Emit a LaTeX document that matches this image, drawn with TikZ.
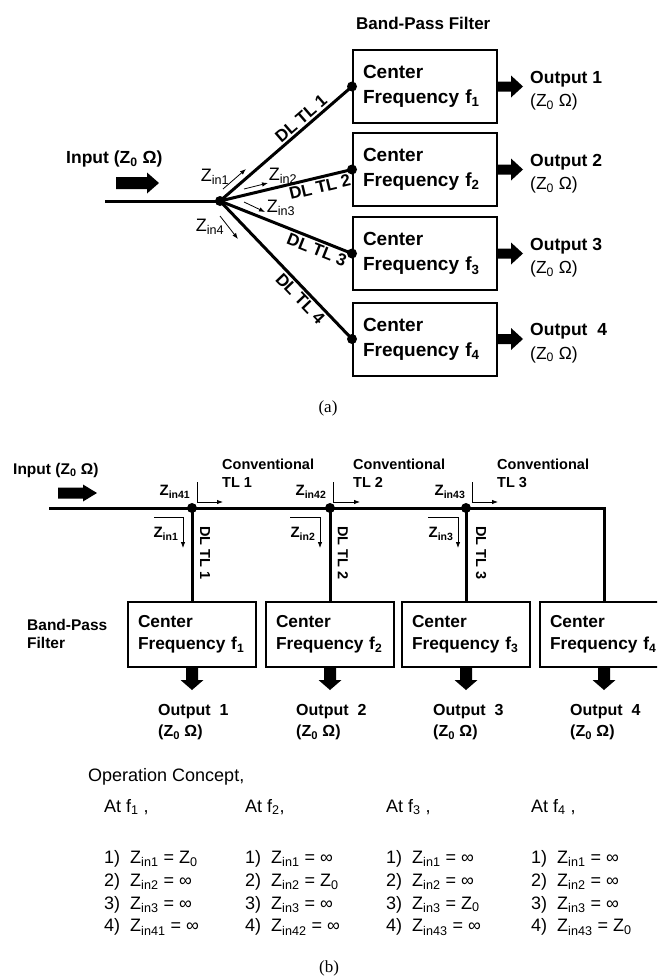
\documentclass[tikz,border=0pt]{standalone}
\usepackage{fontspec}
\setmainfont{Liberation Sans}
\newfontfamily\capfont{Liberation Serif}
\usetikzlibrary{arrows.meta}
\newcommand\fs[2]{\fontsize{#1}{#2}\selectfont}
\newcommand\sub[1]{\textsubscript{#1}}
\begin{document}
\begin{tikzpicture}[x=1pt,y=-1pt,
  boxa/.style={draw, line width=2pt, minimum width=144pt, minimum height=73pt, inner xsep=10pt, inner ysep=0pt, text width=124pt, align=left, font=\fs{19}{25}\bfseries},
  boxb/.style={draw, line width=2pt, minimum width=128pt, minimum height=65pt, inner xsep=10pt, inner ysep=0pt, text width=108pt, align=left, font=\fs{17.3}{22}\bfseries},
  tl/.style={line width=3pt},
  jdot/.style={circle, fill, inner sep=0pt, minimum size=10pt},
  thinarr/.style={line width=0.8pt, -{Latex[length=6pt,width=4.5pt]}},
  dla/.style={font=\fs{17}{20}\bfseries, inner sep=2pt},
  zina/.style={font=\fs{18}{20}, inner sep=0pt},
  zinb/.style={font=\fs{15}{18}\bfseries, inner sep=0pt},
  lblb/.style={font=\fs{14.5}{18}\bfseries, inner sep=0pt, align=left},
  outa/.style={font=\fs{17.5}{23.5}, inner sep=0pt, align=left, anchor=west},
  outb/.style={font=\fs{16}{21}\bfseries, inner sep=0pt, align=left, anchor=west},
  oper/.style={font=\fs{18}{22.8}, inner sep=0pt, align=left, anchor=west},
  capstyle/.style={font=\capfont\fs{17}{20}, inner sep=0pt},
  pics/barrow/.style n args={4}{code={\fill (0,-#3) -- ({#1-#2},-#3) -- ({#1-#2},-#4) -- (#1,0) -- ({#1-#2},#4) -- ({#1-#2},#3) -- (0,#3) -- cycle;}},
]
\useasboundingbox (0,0) rectangle (657,980);
\clip (0,0) rectangle (657,980);
\fill[white] (0,0) rectangle (657,980);

% ---------------- (a) ----------------
\node[font=\fs{17}{20}\bfseries, anchor=west, inner sep=0pt] (bpfA) at (356,23) {Band-Pass Filter};

\node[boxa] (a1) at (425,86.5) {Center\\Frequency f\sub{1}};
\node[boxa] (a2) at (425,169.5) {Center\\Frequency f\sub{2}};
\node[boxa] (a3) at (425,253.5) {Center\\Frequency f\sub{3}};
\node[boxa] (a4) at (425,339) {Center\\Frequency f\sub{4}};

\node[jdot] (J) at (220,201) {};
\coordinate (inA) at (105,201);
\draw[tl] (inA) -- (J.center);
\draw[tl] (J.center) -- node[sloped, above, pos=0.66, dla] (dl1) {DL TL 1} (a1.west);
\draw[tl] (J.center) -- node[sloped, below, pos=0.74, dla] (dl2) {DL TL 2} (a2.west);
\draw[tl] (J.center) -- node[sloped, below, pos=0.76, dla] (dl3) {DL TL 3} (a3.west);
\draw[tl] (J.center) -- node[sloped, below, pos=0.66, dla] (dl4) {DL TL 4} (a4.west);
\node[jdot] (d1) at (a1.west) {};
\node[jdot] (d2) at (a2.west) {};
\node[jdot] (d3) at (a3.west) {};
\node[jdot] (d4) at (a4.west) {};

\node[font=\fs{17.5}{20}\bfseries, anchor=west, inner sep=0pt] (inputA) at (66,159) {Input (Z\sub{0} Ω)};
\pic at (116,183) {barrow={43}{12}{6}{10.5}};

\coordinate (z1s) at (223,189); \coordinate (z1e) at (246,169);
\coordinate (z2s) at (244,189); \coordinate (z2e) at (268,183);
\coordinate (z3s) at (244,202); \coordinate (z3e) at (265,212);
\coordinate (z4s) at (220,216); \coordinate (z4e) at (238,239);
\draw[thinarr] (z1s) -- (z1e);
\draw[thinarr] (z2s) -- (z2e);
\draw[thinarr] (z3s) -- (z3e);
\draw[thinarr] (z4s) -- (z4e);
\node[zina] (za1) at (215,177) {Z\sub{in1}};
\node[zina] (za2) at (283,176) {Z\sub{in2}};
\node[zina] (za3) at (281,208) {Z\sub{in3}};
\node[zina] (za4) at (210,227) {Z\sub{in4}};

\pic at (a1.east) {barrow={25}{12}{5}{11}};
\pic at (a2.east) {barrow={25}{12}{5}{11}};
\pic at (a3.east) {barrow={25}{12}{5}{11}};
\pic at (a4.east) {barrow={25}{12}{5}{11}};
\node[outa] (oa1) at (530,90.5) {\textbf{Output 1}\\(Z\sub{0} Ω)};
\node[outa] (oa2) at (530,173.5) {\textbf{Output 2}\\(Z\sub{0} Ω)};
\node[outa] (oa3) at (530,257.5) {\textbf{Output 3}\\(Z\sub{0} Ω)};
\node[outa] (oa4) at (530,343) {\textbf{Output\ \ 4}\\(Z\sub{0} Ω)};

\node[capstyle] (capA) at (328,408) {(a)};

% ---------------- (b) ----------------
\node[font=\fs{15.5}{18}\bfseries, anchor=west, inner sep=0pt] (inputB) at (13,470) {Input (Z\sub{0} Ω)};
\pic at (58,493) {barrow={39}{14}{5.5}{8.5}};

\node[boxb] (b1) at (192,634.5) {Center\\Frequency f\sub{1}};
\node[boxb] (b2) at (330,634.5) {Center\\Frequency f\sub{2}};
\node[boxb] (b3) at (466,634.5) {Center\\Frequency f\sub{3}};
\node[boxb] (b4) at (604,634.5) {Center\\Frequency f\sub{4}};

\node[jdot] (j1) at (192,508) {};
\node[jdot] (j2) at (330,508) {};
\node[jdot] (j3) at (466,508) {};
\coordinate (inB) at (49,508);
\coordinate (corner) at (604,508);
\draw[tl] (inB) -- (j1.center) -- (j2.center) -- (j3.center) -- (corner) -- (b4.north);
\draw[tl] (j1.center) -- (b1.north);
\draw[tl] (j2.center) -- (b2.north);
\draw[tl] (j3.center) -- (b3.north);

\node[lblb, rotate=-90] (dlb1) at (205,553) {DL TL 1};
\node[lblb, rotate=-90] (dlb2) at (343,553) {DL TL 2};
\node[lblb, rotate=-90] (dlb3) at (481,553) {DL TL 3};

\node[lblb, anchor=west] (cv1) at (222,473) {Conventional\\TL 1};
\node[lblb, anchor=west] (cv2) at (353,473) {Conventional\\TL 2};
\node[lblb, anchor=west] (cv3) at (497,473) {Conventional\\TL 3};

\coordinate (la1s) at (197,482); \coordinate (la1m) at (197,502); \coordinate (la1e) at (223,502);
\coordinate (la2s) at (333,482); \coordinate (la2m) at (333,502); \coordinate (la2e) at (360,502);
\coordinate (la3s) at (472,482); \coordinate (la3m) at (472,502); \coordinate (la3e) at (498,502);
\draw[thinarr] (la1s) -- (la1m) -- (la1e);
\draw[thinarr] (la2s) -- (la2m) -- (la2e);
\draw[thinarr] (la3s) -- (la3m) -- (la3e);

\coordinate (lb1s) at (154,517); \coordinate (lb1m) at (183,517); \coordinate (lb1e) at (183,548);
\coordinate (lb2s) at (290,517); \coordinate (lb2m) at (320,517); \coordinate (lb2e) at (320,548);
\coordinate (lb3s) at (428,517); \coordinate (lb3m) at (458,517); \coordinate (lb3e) at (458,548);
\draw[thinarr] (lb1s) -- (lb1m) -- (lb1e);
\draw[thinarr] (lb2s) -- (lb2m) -- (lb2e);
\draw[thinarr] (lb3s) -- (lb3m) -- (lb3e);

\node[zinb] (zb41) at (175,492) {Z\sub{in41}};
\node[zinb] (zb42) at (311,492) {Z\sub{in42}};
\node[zinb] (zb43) at (450,492) {Z\sub{in43}};
\node[zinb] (zb1) at (166,534) {Z\sub{in1}};
\node[zinb] (zb2) at (303,534) {Z\sub{in2}};
\node[zinb] (zb3) at (441,534) {Z\sub{in3}};

\node[font=\fs{15.5}{18}\bfseries, anchor=west, inner sep=0pt, align=left] (bpfB) at (27,634) {Band-Pass\\Filter};

\pic[rotate=-90] at (b1.south) {barrow={22}{10}{6}{11.5}};
\pic[rotate=-90] at (b2.south) {barrow={22}{10}{6}{11.5}};
\pic[rotate=-90] at (b3.south) {barrow={22}{10}{6}{11.5}};
\pic[rotate=-90] at (b4.south) {barrow={22}{10}{6}{11.5}};

\node[outb] (ob1) at (158,722) {Output\ \ 1\\(Z\sub{0} Ω)};
\node[outb] (ob2) at (296,722) {Output\ \ 2\\(Z\sub{0} Ω)};
\node[outb] (ob3) at (433,722) {Output\ \ 3\\(Z\sub{0} Ω)};
\node[outb] (ob4) at (570,722) {Output\ \ 4\\(Z\sub{0} Ω)};

\node[oper] (opc) at (88,777) {Operation Concept,};
\node[oper] (at1) at (104,807) {At f\sub{1} ,};
\node[oper] (at2) at (245,807) {At f\sub{2},};
\node[oper] (at3) at (386,807) {At f\sub{3} ,};
\node[oper] (at4) at (531,807) {At f\sub{4} ,};

\node[oper] (col1) at (104,893) {1)\ \ Z\sub{in1} = Z\sub{0}\\2)\ \ Z\sub{in2} = ∞\\3)\ \ Z\sub{in3} = ∞\\4)\ \ Z\sub{in41} = ∞};
\node[oper] (col2) at (245,893) {1)\ \ Z\sub{in1} = ∞\\2)\ \ Z\sub{in2} = Z\sub{0}\\3)\ \ Z\sub{in3} = ∞\\4)\ \ Z\sub{in42} = ∞};
\node[oper] (col3) at (386,893) {1)\ \ Z\sub{in1} = ∞\\2)\ \ Z\sub{in2} = ∞\\3)\ \ Z\sub{in3} = Z\sub{0}\\4)\ \ Z\sub{in43} = ∞};
\node[oper] (col4) at (531,893) {1)\ \ Z\sub{in1} = ∞\\2)\ \ Z\sub{in2} = ∞\\3)\ \ Z\sub{in3} = ∞\\4)\ \ Z\sub{in43} = Z\sub{0}};

\node[capstyle] (capB) at (329,968) {(b)};
\end{tikzpicture}
\end{document}
